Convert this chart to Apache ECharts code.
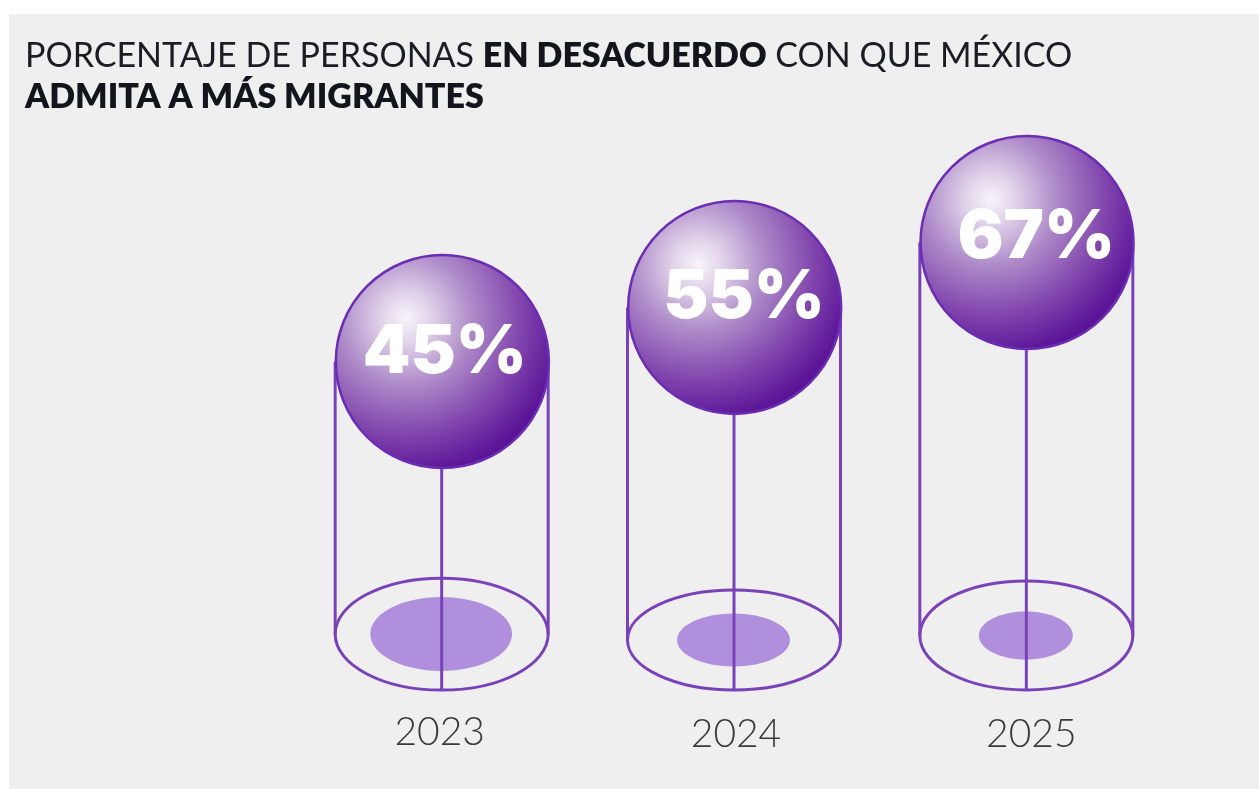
<!DOCTYPE html>
<html><head><meta charset="utf-8">
<style>html,body{margin:0;padding:0;background:#fff}#c{width:1259px;height:789px}</style>
<script src="https://cdn.jsdelivr.net/npm/echarts@6/dist/echarts.min.js"></script>
</head><body><div id="c"></div>
<script>
const years = ['2023', '2024', '2025'];
const disagree = [45, 55, 67];
// floor of each cylinder, and its ellipses, read in axis units
const floorLevel = [-5.4, -6.5, -5.65];
const floorDepth = [10.35, 9.24, 10.07];
const shadowWidth = [13.1, 10.44, 8.69];
const shadowDepth = [6.84, 4.9, 4.44];

const chart = echarts.init(document.getElementById('c'), null, {renderer: 'canvas'});
const LINE = '#7a42b8';
const nudge = [[3, -9], [10, -10], [10, -5]];
const yearPad = [[0, 4, 0, 0], [2, 0, 0, 4], [2, 0, 0, 10]];

function renderItem(params, api) {
  const i = params.dataIndex;
  const [cx, cy] = api.coord([i, api.value(1)]);
  const [, by] = api.coord([i, api.value(2)]);
  const u = api.size([0, 1])[1];
  const R = 106.5, fd = api.value(3) * u, sw = api.value(4) * u, sd = api.value(5) * u;
  const ln = {stroke: LINE, lineWidth: 3, fill: null};
  return {type: 'group', children: [
    {type: 'line', shape: {x1: cx - R, y1: cy, x2: cx - R, y2: by}, style: ln},
    {type: 'line', shape: {x1: cx + R, y1: cy, x2: cx + R, y2: by}, style: ln},
    {type: 'ellipse', shape: {cx: cx - 0.5, cy: by, rx: sw, ry: sd}, style: {fill: '#b08fdc'}},
    {type: 'ellipse', shape: {cx, cy: by, rx: R, ry: fd}, style: {stroke: LINE, lineWidth: 3, fill: 'transparent'}},
    {type: 'line', shape: {x1: cx, y1: cy, x2: cx, y2: by + fd}, style: ln},
    {type: 'circle', shape: {cx: cx + 0.7, cy, r: R}, style: {
      stroke: '#6a2db4', lineWidth: 2.5,
      fill: new echarts.graphic.RadialGradient(0.33, 0.3, 0.85, [
        {offset: 0, color: '#f8f4fa'},
        {offset: 0.14, color: '#e0d2e9'},
        {offset: 0.36, color: '#ae8bc9'},
        {offset: 0.62, color: '#8348ae'},
        {offset: 0.85, color: '#5c1698'},
        {offset: 1, color: '#4d0a8a'}
      ])
    }},
    {type: 'text', style: {
      x: cx + nudge[i][0], y: cy + nudge[i][1],
      text: api.value(1) + '%', fill: '#fff', align: 'center', verticalAlign: 'middle',
      font: '900 68px Inter'
    }}
  ]};
}

chart.setOption({
  animation: false,
  backgroundColor: '#fff',
  graphic: [{type: 'rect', z: -10, shape: {x: 9, y: 14, width: 1250, height: 775}, style: {fill: '#efefef'}}],
  title: {
    left: 20, top: 31,
    textStyle: {
      fontFamily: 'Lato', fontSize: 34, fontWeight: 400, color: '#1c1c24', lineHeight: 41,
      rich: {
        n: {fontFamily: 'Lato', fontSize: 34, fontWeight: 400, color: '#1c1c24', lineHeight: 41},
        b: {fontFamily: 'Lato', fontSize: 34, fontWeight: 800, color: '#14141c', lineHeight: 41}
      }
    },
    text: '{n|PORCENTAJE DE PERSONAS }{b|EN DESACUERDO}{n| CON QUE MÉXICO}\n{b|ADMITA A MÁS MIGRANTES}'
  },
  grid: {left: 295.5, width: 877, top: 64, height: 595, containLabel: false},
  xAxis: {
    type: 'category', data: years,
    axisLine: {show: false}, axisTick: {show: false}, splitLine: {show: false},
    axisLabel: {
      margin: 54, interval: 0,
      formatter: (v) => '{y' + years.indexOf(v) + '|' + v + '}',
      rich: Object.fromEntries(years.map((y, i) => ['y' + i, {
        fontFamily: 'Lato', fontSize: 39, fontWeight: 300, color: '#3a3a3a', padding: yearPad[i]
      }]))
    }
  },
  yAxis: {type: 'value', min: -10, max: 100, show: false},
  series: [{
    type: 'custom', renderItem, clip: false,
    data: years.map((y, i) => [i, disagree[i], floorLevel[i], floorDepth[i], shadowWidth[i], shadowDepth[i]]),
    encode: {x: 0, y: 1}
  }]
});
</script></body></html>
